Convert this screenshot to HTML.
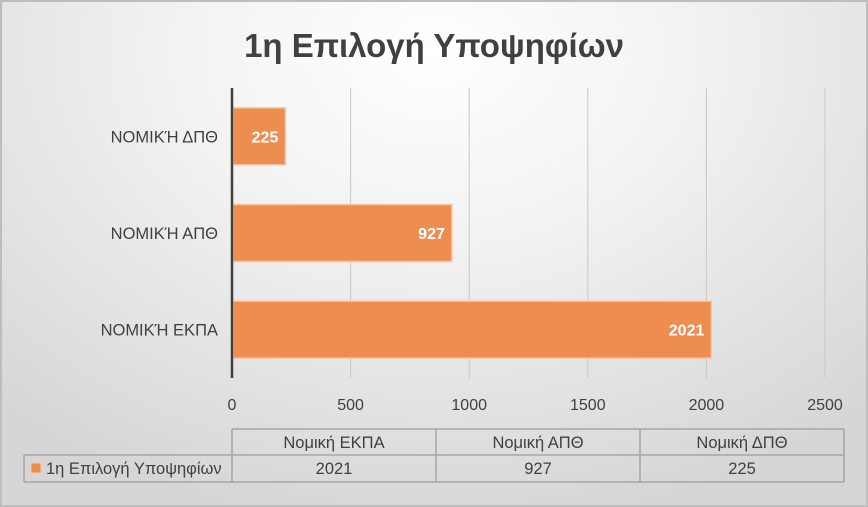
<!DOCTYPE html>
<html><head><meta charset="utf-8"><style>
body{margin:0}
#c{position:relative;width:868px;height:507px;overflow:hidden;box-sizing:border-box;border:2px solid #bdbdbd;
background:radial-gradient(ellipse 75% 95% at 50% 10%,#ffffff 0%,#f2f2f2 40%,#d6d6d6 100%);
font-family:"Liberation Sans","DejaVu Sans",sans-serif}
svg{position:absolute;left:-2px;top:-2px}
</style></head><body>
<div id="c">
<svg id="s" width="868" height="507"></svg>
</div>
<script>
const categories=["Νομική ΕΚΠΑ","Νομική ΑΠΘ","Νομική ΔΠΘ"];
const axisLabels=["ΝΟΜΙΚΉ ΕΚΠΑ","ΝΟΜΙΚΉ ΑΠΘ","ΝΟΜΙΚΉ ΔΠΘ"];
const values=[2021,927,225];
const ticks=[0,500,1000,1500,2000,2500];
const seriesName="1η Επιλογή Υποψηφίων";
const NS="http://www.w3.org/2000/svg";
const s=document.getElementById('s');
function el(t,a,txt){const e=document.createElementNS(NS,t);for(const k in a)e.setAttribute(k,a[k]);if(txt!==undefined)e.textContent=txt;s.appendChild(e);return e;}
const x0=232,x1=825,yTop=88,yBot=378,max=2500;
const X=v=>x0+(v/max)*(x1-x0);
const band=(yBot-yTop)/categories.length;
const Y=i=>yBot-band*(i+0.5);
let t=el('text',{x:434,y:57,'text-anchor':'middle','font-size':33,'font-weight':'bold',fill:'#404040'},"1η Επιλογή Υποψηφίων");

ticks.forEach(v=>{
 if(v>0){let g=el('line',{x1:X(v),x2:X(v),y1:yTop,y2:yBot,stroke:'#c8c8c8','stroke-width':1});
 }
 let l=el('text',{x:X(v),y:410,'text-anchor':'middle','font-size':16,fill:'#404040'},v);
 
});
values.forEach((v,i)=>{
 const h=57,y=Y(i)-h/2;
 let r=el('rect',{x:x0+1,y:y,width:X(v)-x0-1,height:h,fill:'#ED8D4F',stroke:'#F6C6A4','stroke-width':1.5});
 
 let lv=el('text',{x:X(v)-7,y:Y(i)+6,'text-anchor':'end','font-size':16,'font-weight':'bold',fill:'#fff'},v);
 
 let cl=el('text',{x:218,y:Y(i)+6,'text-anchor':'end','font-size':16.5,fill:'#404040'},axisLabels[i]);
 
});
let ax=el('line',{x1:x0,x2:x0,y1:yTop,y2:yBot,stroke:'#404040','stroke-width':2.5});

const cw=(844-232)/3,r1=429,r2=455,r3=482,lc='#a6a6a6';
[[232,r1,844,r1],[24,r2,844,r2],[24,r3,844,r3],[24,r2,24,r3],[232,r1,232,r3],[232+cw,r1,232+cw,r3],[232+2*cw,r1,232+2*cw,r3],[844,r1,844,r3]].forEach(a=>{
 let l=el('line',{x1:a[0],y1:a[1],x2:a[2],y2:a[3],stroke:lc,'stroke-width':1.5});
 
});
categories.forEach((c,i)=>{
 let h=el('text',{x:232+cw*(i+0.5),y:r1+19,'text-anchor':'middle','font-size':16.5,fill:'#404040'},c);
 
 let d=el('text',{x:232+cw*(i+0.5),y:r2+19,'text-anchor':'middle','font-size':16.5,fill:'#404040'},values[i]);
 
});
let k=el('rect',{x:31,y:463,width:10,height:10,fill:'#ED8D4F',stroke:'#F6C6A4'});

let sn=el('text',{x:46,y:474,'font-size':16.5,fill:'#404040'},seriesName);

</script>
</body></html>
